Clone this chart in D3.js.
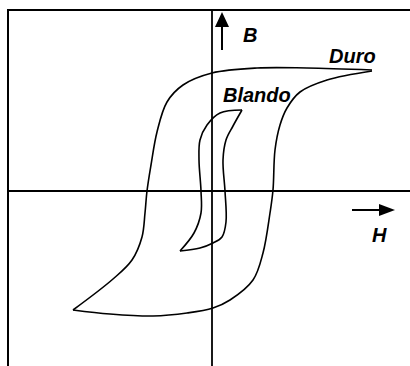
<!DOCTYPE html>
<html>
<head>
<meta charset="utf-8">
<script src="https://cdn.jsdelivr.net/npm/d3@7"></script>
<style>
  body { margin: 0; background: #fff; }
</style>
</head>
<body>
<div id="chart-area"></div>
<script>
// hysteresis loops, H on x, B on y (arbitrary units, origin at axis crossing)
const duroDown = [[16.0, 12.1], [9.5, 12.3], [4.5, 12.3], [0, 11.8], [-2.9, 10.6], [-4.5, 8.9],
  [-5.5, 5.9], [-6.1, 2.6], [-6.5, 0], [-6.7, -2.2], [-7.0, -4.6], [-8.0, -6.9], [-9.9, -8.8],
  [-13.9, -11.9]];
const duroUp = [[-13.9, -11.9], [-10.2, -12.3], [-5.9, -12.5], [-2.5, -12.2], [0.1, -11.7],
  [1.8, -10.9], [4.1, -8.9], [5.1, -6.2], [5.8, -2.2], [6.1, 0.1], [6.3, 4.1], [6.8, 6.6],
  [7.5, 8.3], [8.8, 9.9], [11.5, 11.1], [16.0, 12.0]];
const blandoDown = [[3.0, 8.1], [0.8, 7.8], [-0.5, 6.6], [-1.2, 5.1], [-1.3, 3.1], [-1.1, 0],
  [-1.1, -2.2], [-1.8, -4.2], [-3.2, -6.0]];
const blandoUp = [[-3.2, -6.0], [-1.2, -5.7], [0.1, -5.2], [1.0, -4.6], [1.4, -3.1], [1.3, 0],
  [1.1, 3.1], [1.4, 5.1], [2.1, 6.5], [3.0, 8.1]];

const labels = [
  { text: 'B', x: 3.1, y: 14.9 },
  { text: 'H', x: 16.0, y: -5.1 },
  { text: 'Duro', x: 11.7, y: 12.8 },
  { text: 'Blando', x: 1.1, y: 8.9 }
];

const width = 410, height = 366;

const svg = d3.select('#chart-area')
  .append('svg')
  .attr('width', width)
  .attr('height', height);

const x = d3.scaleLinear().domain([-20.4, 20]).range([8, 412]);
const y = d3.scaleLinear().domain([18.1, -17.6]).range([10, 367]);

// frame
svg.append('rect')
  .attr('x', x(-20.4)).attr('y', y(18.1))
  .attr('width', 420).attr('height', 380)
  .attr('fill', 'none').attr('stroke', '#000').attr('stroke-width', 2);

// axes
svg.append('line')
  .attr('x1', x(0)).attr('x2', x(0))
  .attr('y1', y(18.1)).attr('y2', height + 2)
  .attr('stroke', '#000').attr('stroke-width', 1.8);
svg.append('line')
  .attr('x1', x(-20.4)).attr('x2', width + 2)
  .attr('y1', y(0)).attr('y2', y(0))
  .attr('stroke', '#000').attr('stroke-width', 1.8);

// direction arrows
svg.append('line')
  .attr('x1', x(1)).attr('x2', x(1))
  .attr('y1', y(14.1)).attr('y2', y(16.4))
  .attr('stroke', '#000').attr('stroke-width', 2);
svg.append('path')
  .attr('d', `M${x(1) - 7},${y(16.4)} L${x(1) + 7},${y(16.4)} L${x(1)},${y(17.9)} Z`)
  .attr('fill', '#000');

svg.append('line')
  .attr('x1', x(14)).attr('x2', x(16.8))
  .attr('y1', y(-1.9)).attr('y2', y(-1.9))
  .attr('stroke', '#000').attr('stroke-width', 2);
svg.append('path')
  .attr('d', `M${x(16.7)},${y(-1.9) - 6} L${x(16.7)},${y(-1.9) + 6} L${x(18.3)},${y(-1.9)} Z`)
  .attr('fill', '#000');

// loops, each branch drawn on its own so the tips stay sharp
const line = d3.line()
  .x(d => x(d[0]))
  .y(d => y(d[1]))
  .curve(d3.curveCatmullRom.alpha(0.5));

svg.selectAll('path.loop')
  .data([duroDown, duroUp, blandoDown, blandoUp])
  .join('path')
  .attr('class', 'loop')
  .attr('d', line)
  .attr('fill', 'none')
  .attr('stroke', '#000')
  .attr('stroke-width', 1.6);

svg.selectAll('text.lbl')
  .data(labels)
  .join('text')
  .attr('class', 'lbl')
  .attr('x', d => x(d.x))
  .attr('y', d => y(d.y))
  .attr('font-family', '"Liberation Sans", Arial, sans-serif')
  .attr('font-size', 20)
  .attr('font-weight', 'bold')
  .attr('font-style', 'italic')
  .text(d => d.text);
</script>
</body>
</html>
